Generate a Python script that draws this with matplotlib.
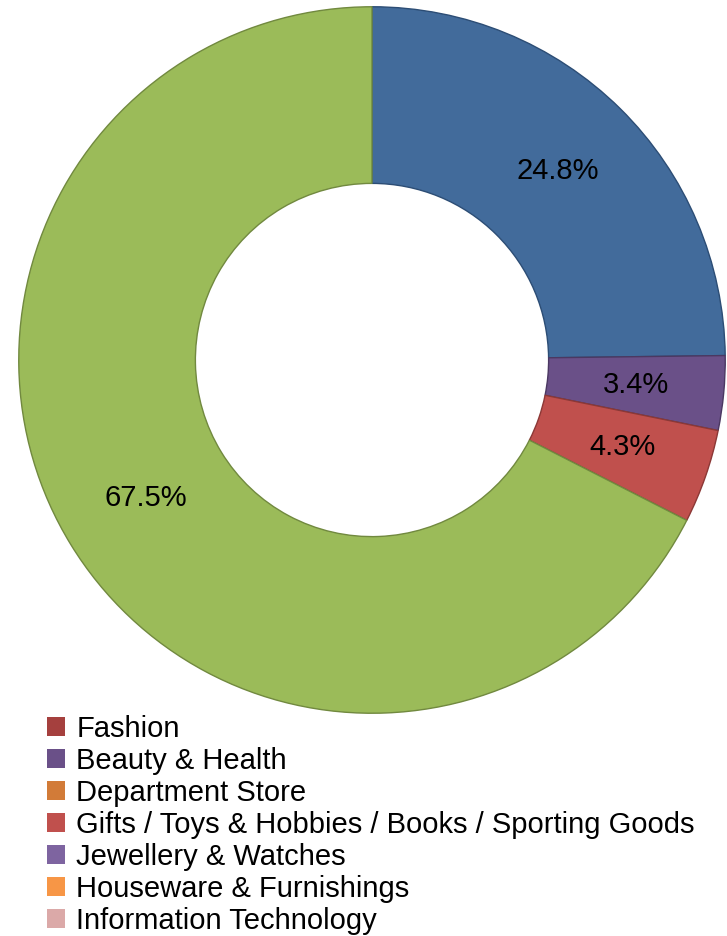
import matplotlib.pyplot as plt
from matplotlib.patches import Patch

plt.rcParams["font.family"] = ["Liberation Sans", "DejaVu Sans"]

# slices, clockwise from 12 o'clock
slice_values = [24.8, 3.4, 4.3, 67.5]
slice_colours = ["#426B9B", "#6A5088", "#C0504D", "#9BBB59"]
slice_edges = ["#2C4D75", "#4B3862", "#8C3836", "#71893F"]

legend_labels = [
    "Fashion",
    "Beauty & Health",
    "Department Store",
    "Gifts / Toys & Hobbies / Books / Sporting Goods",
    "Jewellery & Watches",
    "Houseware & Furnishings",
    "Information Technology",
]
legend_colours = ["#A5403E", "#6A5088", "#D27B38", "#C0504D", "#7E64A0", "#F79646", "#DBA9A8"]

W, H = 727, 936
fig = plt.figure(figsize=(W / 100, H / 100), dpi=100)

cx, cy, r = 372, 360, 355
ax = fig.add_axes([(cx - r) / W, (H - cy - r) / H, 2 * r / W, 2 * r / H])
wedges, texts, autotexts = ax.pie(
    slice_values,
    colors=slice_colours,
    startangle=90,
    counterclock=False,
    radius=1,
    autopct="%.1f%%",
    pctdistance=0.75,
    wedgeprops=dict(width=0.5, linewidth=1.0),
    textprops=dict(fontsize=21, color="black"),
)
for w, ec in zip(wedges, slice_edges):
    w.set_edgecolor(ec)
ax.set_xlim(-1.005, 1.005)
ax.set_ylim(-1.005, 1.005)
ax.set_aspect("equal")
ax.axis("off")

handles = [Patch(facecolor=c, edgecolor="none") for c in legend_colours]
fig.legend(
    handles,
    legend_labels,
    loc="upper left",
    bbox_to_anchor=(47 / W, 1 - 715 / H),
    frameon=False,
    fontsize=21,
    handlelength=0.62,
    handleheight=0.62,
    handletextpad=0.38,
    labelspacing=0.135,
    borderpad=0,
    borderaxespad=0,
)

fig.savefig("out.png", dpi=100)
